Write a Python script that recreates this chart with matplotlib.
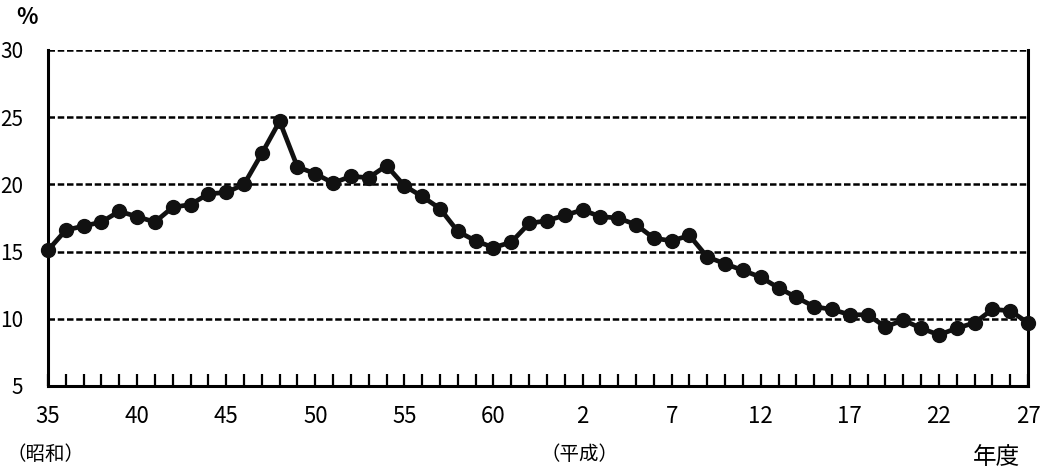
import matplotlib
matplotlib.use("Agg")
import matplotlib.pyplot as plt
import numpy as np

plt.rcParams['font.family'] = ['Noto Sans CJK JP', 'DejaVu Sans']

# Fiscal years: Showa 35..63, Heisei 1..27
years = list(range(1960, 2016))
values = [15.1, 16.6, 16.9, 17.2, 18.0, 17.6, 17.2, 18.3, 18.5, 19.3,
          19.4, 20.0, 22.3, 24.7, 21.3, 20.8, 20.1, 20.6, 20.5, 21.4,
          19.9, 19.1, 18.2, 16.5, 15.8, 15.3, 15.7, 17.1, 17.3, 17.7,
          18.1, 17.6, 17.5, 17.0, 16.0, 15.8, 16.2, 14.6, 14.1, 13.6,
          13.1, 12.3, 11.6, 10.9, 10.7, 10.3, 10.3, 9.4, 9.9, 9.3,
          8.8, 9.3, 9.7, 10.7, 10.6, 9.7]
tick_years = [1960, 1965, 1970, 1975, 1980, 1985, 1990, 1995, 2000, 2005, 2010, 2015]
tick_labels = ['35', '40', '45', '50', '55', '60', '2', '7', '12', '17', '22', '27']
y_ticks = [5, 10, 15, 20, 25, 30]

fig = plt.figure(figsize=(10.49, 4.72), dpi=100)
ax = fig.add_axes([48/1049, 1-386/472, (1028-48)/1049, (386-50)/472])

ax.plot(years, values, color='#111111', lw=3.4, marker='o', ms=10, zorder=3, clip_on=False)

ax.set_xlim(years[0], years[-1])
ax.set_ylim(5, 30)
ax.set_yticks(y_ticks)
ax.set_yticklabels([str(v) for v in y_ticks], fontsize=15)
for v in y_ticks[1:]:
    ax.axhline(v, color='black', lw=1.8, ls=(0, (2.6, 1.1)), zorder=1)

ax.set_xticks(tick_years)
ax.set_xticklabels(tick_labels, fontsize=16)
ax.set_xticks(years, minor=True)
ax.tick_params(axis='x', which='both', direction='in', length=8.5, width=1.6, color='black', pad=14)
ax.tick_params(axis='y', length=0, pad=18)

ax.spines['top'].set_visible(False)
for s in ['left', 'bottom', 'right']:
    ax.spines[s].set_linewidth(2.2)
    ax.spines[s].set_color('black')

fig.text(27/1049, 1-18/472, '%', fontsize=16, ha='center', va='center', fontweight='bold')
fig.text(46/1049, 1-455/472, '（昭和）', fontsize=14, ha='center', va='center')
fig.text(579/1049, 1-455/472, '（平成）', fontsize=14, ha='center', va='center')
fig.text(997/1049, 1-457/472, '年度', fontsize=17, ha='center', va='center')

fig.savefig('out.png', dpi=100, facecolor='white')
